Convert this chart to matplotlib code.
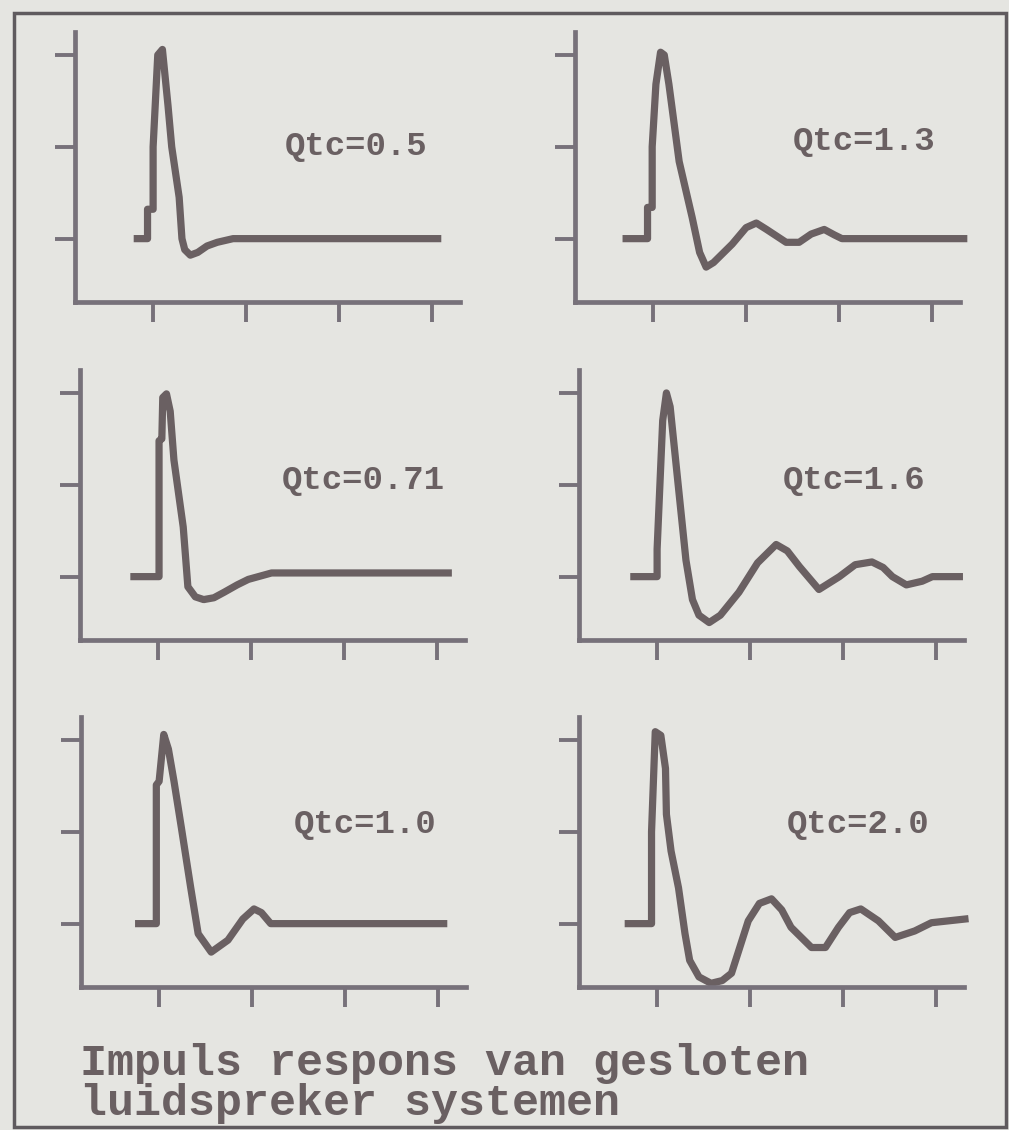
import matplotlib.pyplot as plt
from matplotlib.patches import Rectangle

# impulse responses of closed-box loudspeakers
qtc_labels = ['Qtc=0.5', 'Qtc=1.3', 'Qtc=0.71', 'Qtc=1.6', 'Qtc=1.0', 'Qtc=2.0']

t_05 = [0.83, 0.94, 0.94, 1.00, 1.00, 1.05, 1.10, 1.16, 1.20, 1.28, 1.31, 1.34, 1.40, 1.48, 1.58, 1.69, 1.86, 4.06]
h_05 = [0, 0, 0.32, 0.32, 1.0, 2.0, 2.06, 1.45, 1.0, 0.45, 0.0, -0.12, -0.18, -0.15, -0.08, -0.04, 0, 0]

t_13 = [0.71, 0.94, 0.94, 0.99, 0.99, 1.03, 1.08, 1.12, 1.17, 1.28, 1.42, 1.50, 1.57, 1.65, 1.85, 2.00, 2.11,
        2.22, 2.43, 2.57, 2.70, 2.84, 2.95, 3.03, 4.34]
h_13 = [0, 0, 0.34, 0.34, 1.0, 1.68, 2.03, 2.0, 1.68, 0.84, 0.23, -0.15, -0.31, -0.26, -0.06, 0.12, 0.17,
        0.10, -0.04, -0.04, 0.05, 0.10, 0.04, 0, 0]

t_071 = [0.74, 1.01, 1.01, 1.04, 1.05, 1.09, 1.13, 1.17, 1.27, 1.32, 1.40, 1.49, 1.60, 1.71, 1.85, 1.97, 2.22, 4.12]
h_071 = [0, 0, 1.48, 1.5, 1.95, 1.99, 1.8, 1.27, 0.54, -0.11, -0.22, -0.25, -0.23, -0.17, -0.09, -0.03, 0.04, 0.04]

t_16 = [0.75, 1.0, 1.0, 1.03, 1.06, 1.10, 1.14, 1.20, 1.31, 1.38, 1.45, 1.56, 1.68, 1.88, 2.08, 2.28, 2.40,
        2.53, 2.74, 2.96, 3.13, 3.31, 3.43, 3.53, 3.68, 3.85, 3.96, 4.25]
h_16 = [0, 0, 0.3, 1.0, 1.7, 2.0, 1.85, 1.26, 0.18, -0.25, -0.42, -0.5, -0.42, -0.17, 0.15, 0.35, 0.28,
        0.11, -0.14, 0, 0.13, 0.16, 0.1, 0, -0.09, -0.05, 0, 0]

t_10 = [0.78, 0.97, 0.97, 1.00, 1.05, 1.10, 1.16, 1.24, 1.34, 1.42, 1.56, 1.74, 1.90, 2.02, 2.10, 2.20, 4.06]
h_10 = [0, 0, 1.51, 1.55, 2.06, 1.9, 1.55, 1.04, 0.39, -0.11, -0.31, -0.18, 0.05, 0.16, 0.12, 0, 0]

t_20 = [0.69, 0.94, 0.94, 0.98, 1.04, 1.09, 1.10, 1.15, 1.23, 1.30, 1.35, 1.45, 1.58, 1.70, 1.80, 1.98, 2.10,
        2.23, 2.34, 2.44, 2.66, 2.81, 2.95, 3.07, 3.19, 3.38, 3.56, 3.77, 3.95, 4.31]
h_20 = [0, 0, 1.0, 2.09, 2.05, 1.69, 1.19, 0.79, 0.39, -0.11, -0.4, -0.58, -0.65, -0.62, -0.54, 0.03, 0.22,
        0.27, 0.15, -0.04, -0.26, -0.26, -0.04, 0.12, 0.16, 0.03, -0.15, -0.08, 0.01, 0.05]

series = [(t_05, h_05), (t_13, h_13), (t_071, h_071), (t_16, h_16), (t_10, h_10), (t_20, h_20)]
x_ticks = [1, 2, 3, 4]
y_ticks = [0, 1, 2]

title = 'Impuls respons van gesloten\nluidspreker systemen'

W, H = 1009, 1130
bg = '#e5e5e1'
ink = '#6a6062'
axc = '#77717a'

# panel origin (y axis x-pixel, x axis y-pixel) and label position in data units
origins = [(75, 302), (575, 302), (80, 640), (579, 640), (81, 987), (579, 987)]
label_xy = [(3.18, 1.0), (3.27, 1.06), (3.21, 1.05), (3.12, 1.05), (3.21, 1.08), (3.16, 1.08)]

fig = plt.figure(figsize=(W / 100, H / 100), dpi=100, facecolor=bg)

for i, (ox, oy) in enumerate(origins):
    ax = fig.add_axes([ox / W, 1 - oy / H, 385 / W, 270 / H])
    ax.patch.set_visible(False)
    t, h = series[i]
    ax.plot(t, h, color=ink, lw=5.2, solid_joinstyle='round', clip_on=False)
    ax.set_xlim(0.16, 4.3)
    ax.set_ylim(-0.69, 2.25)
    ax.set_xticks(x_ticks)
    ax.set_yticks(y_ticks)
    ax.set_xticklabels([])
    ax.set_yticklabels([])
    ax.tick_params(direction='out', length=14.4, width=2.8, color=axc)
    ax.spines['top'].set_visible(False)
    ax.spines['right'].set_visible(False)
    for s in ['left', 'bottom']:
        ax.spines[s].set_linewidth(3.4)
        ax.spines[s].set_color(axc)
    lx, ly = label_xy[i]
    ax.text(lx, ly, qtc_labels[i], ha='center', va='center', family='Liberation Mono',
            fontweight='bold', fontsize=24.5, color=ink)

fig.text(80 / W, 1 - 1043 / H, title, ha='left', va='top', family='Liberation Mono',
         fontweight='bold', fontsize=32.4, color=ink, linespacing=0.97)

fig.patches.append(Rectangle((14 / W, 1 - 1127 / H), 992 / W, 1114 / H, transform=fig.transFigure,
                             fill=False, lw=2.5, edgecolor='#5f5a5e'))

fig.savefig('out.png', dpi=100, facecolor=bg)
